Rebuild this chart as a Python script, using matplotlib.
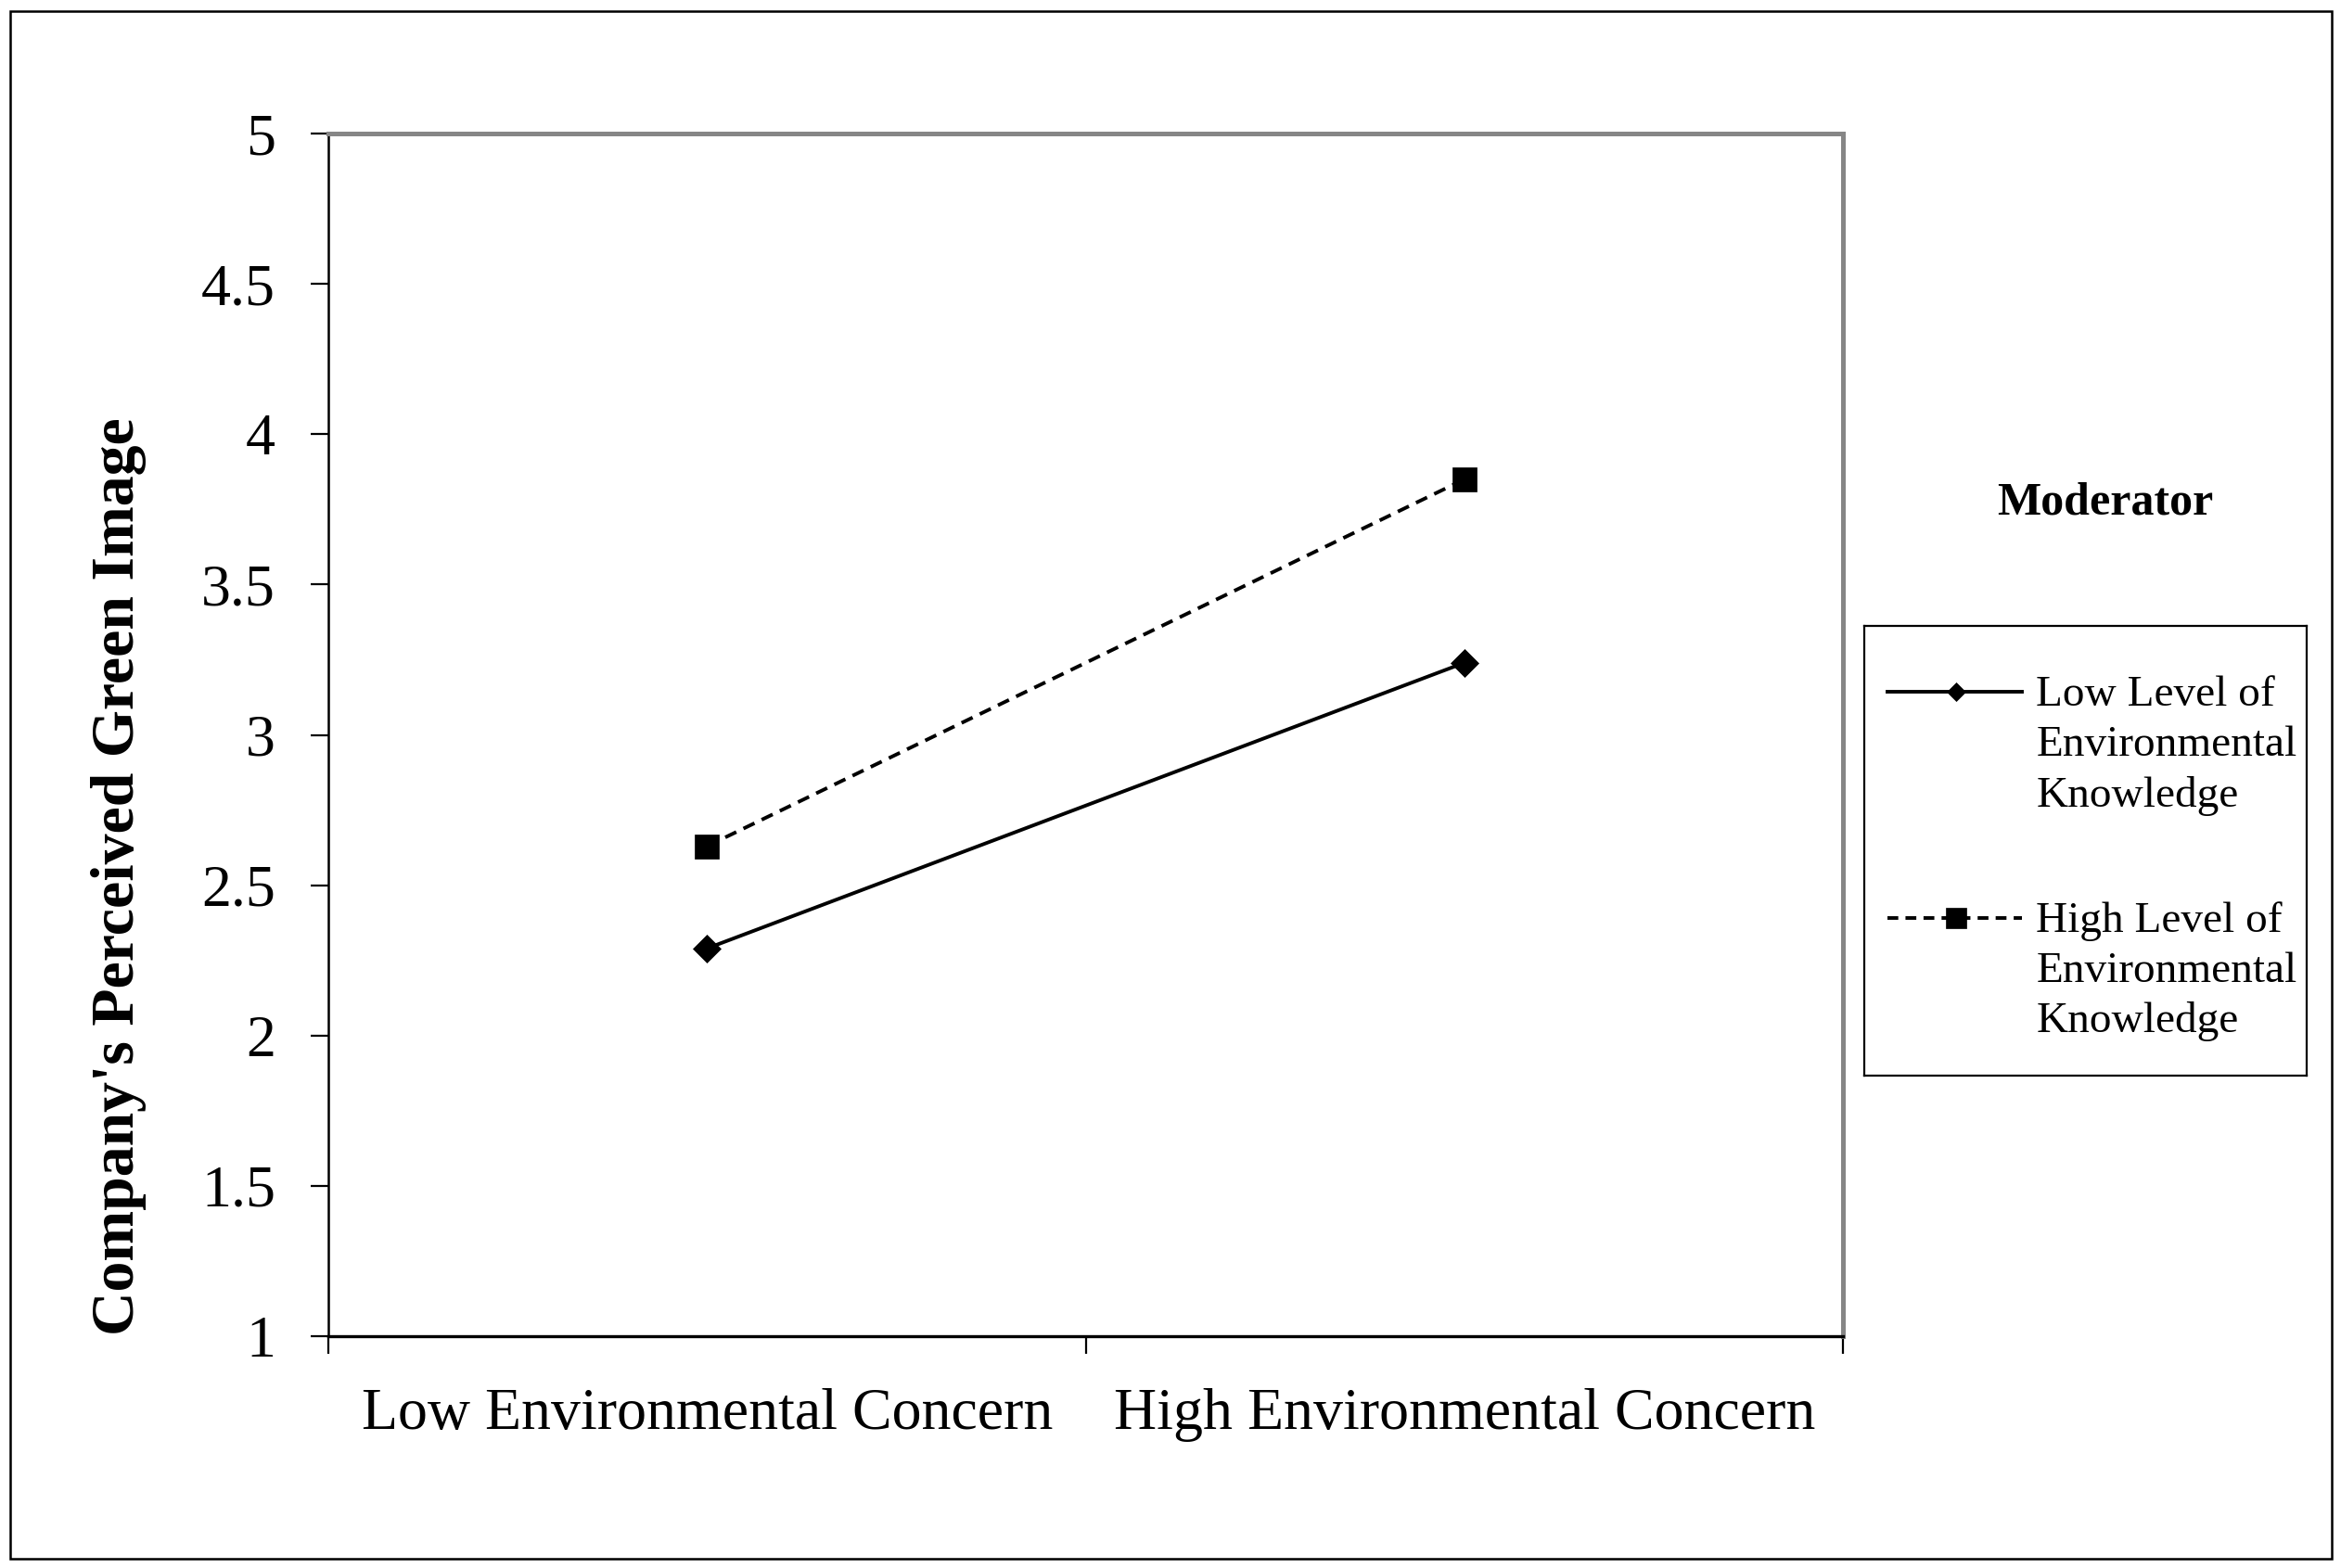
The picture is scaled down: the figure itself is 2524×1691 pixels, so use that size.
import matplotlib
matplotlib.use("Agg")
import matplotlib.pyplot as plt
from matplotlib.patches import Rectangle

plt.rcParams['font.family'] = ['Liberation Serif', 'DejaVu Serif']

# data
categories = ['Low Environmental Concern', 'High Environmental Concern']
low_knowledge = [2.29, 3.24]
high_knowledge = [2.63, 3.85]
series_labels = ['Low Level of\nEnvironmental\nKnowledge',
                 'High Level of\nEnvironmental\nKnowledge']
yticks = [1, 1.5, 2, 2.5, 3, 3.5, 4, 4.5, 5]
ytick_labels = ['1', '1.5', '2', '2.5', '3', '3.5', '4', '4.5', '5']
y_title = "Company's Perceived Green Image"
legend_title = 'Moderator'

fig = plt.figure(figsize=(25.24, 16.91), dpi=100)
ax = fig.add_axes([0.1403, 0.1478, 0.647, 0.767])

x = list(range(len(categories)))
styles = [dict(ls='-', marker='D', ms=15.5, dashes=()),
          dict(ls='--', marker='s', ms=19, dashes=(3.4, 2.2))]
for vals, st in zip([low_knowledge, high_knowledge], styles):
    line, = ax.plot(x, vals, color='black', lw=2.8, marker=st['marker'],
                    ms=st['ms'], mec='black', mew=0.5, ls=st['ls'])
    if st['dashes']:
        line.set_dashes(st['dashes'])

ax.set_xlim(-0.5, len(categories) - 0.5)
ax.set_ylim(1, 5)
ax.set_yticks(yticks)
ax.set_yticklabels(ytick_labels, fontsize=46)
ax.set_xticks([i - 0.5 for i in range(len(categories) + 1)])
ax.set_xticklabels([])
ax.set_xticks(x, minor=True)
ax.set_xticklabels(categories, minor=True, fontsize=46)
ax.tick_params(axis='y', direction='out', length=14, width=1.6, pad=27, colors='black')
ax.tick_params(axis='x', which='major', direction='out', length=14, width=1.6)
ax.tick_params(axis='x', which='minor', length=0, pad=40)

for s in ['top', 'right']:
    ax.spines[s].set_color('#868686')
    ax.spines[s].set_linewidth(3.6)
ax.spines['left'].set_color('black')
ax.spines['left'].set_linewidth(1.8)
ax.spines['bottom'].set_color('black')
ax.spines['bottom'].set_linewidth(2.4)

fig.text(0.0507, 0.4412, y_title, rotation=90, ha='center', va='center',
         fontsize=47.3, fontweight='bold')

# legend drawn by hand so the handle sits on the first text line
fig.text(0.8994, 0.679, legend_title, ha='center', va='center',
         fontsize=36, fontweight='bold')
lax = fig.add_axes([0.7964, 0.314, 0.189, 0.2868])
lax.set_xlim(0, 1)
lax.set_ylim(0, 1)
lax.set_xticks([])
lax.set_yticks([])
for s in lax.spines.values():
    s.set_linewidth(1.6)
    s.set_color('black')

handle_y = [0.854, 0.351]
legend_ms = [10.5, 15.5]
for i, (lab, st) in enumerate(zip(series_labels, styles)):
    hl, = lax.plot([0.053, 0.356], [handle_y[i]] * 2, color='black', lw=2.8, ls=st['ls'])
    if st['dashes']:
        hl.set_dashes((3.0, 2.0))
    lax.plot([0.208], [handle_y[i]], marker=st['marker'], ms=legend_ms[i],
             color='black', mew=0.5)
    base = handle_y[i] - 0.031
    for j, txt in enumerate(lab.split('\n')):
        lax.text(0.388, base - j * 0.112, txt, fontsize=34, va='baseline', ha='left')

# outer frame around the whole picture
fig.patches.append(Rectangle((0.00436, 0.0059), 0.9917, 0.987, transform=fig.transFigure,
                             fill=False, edgecolor='black', lw=1.8))

plt.savefig('out.png', dpi=100)
